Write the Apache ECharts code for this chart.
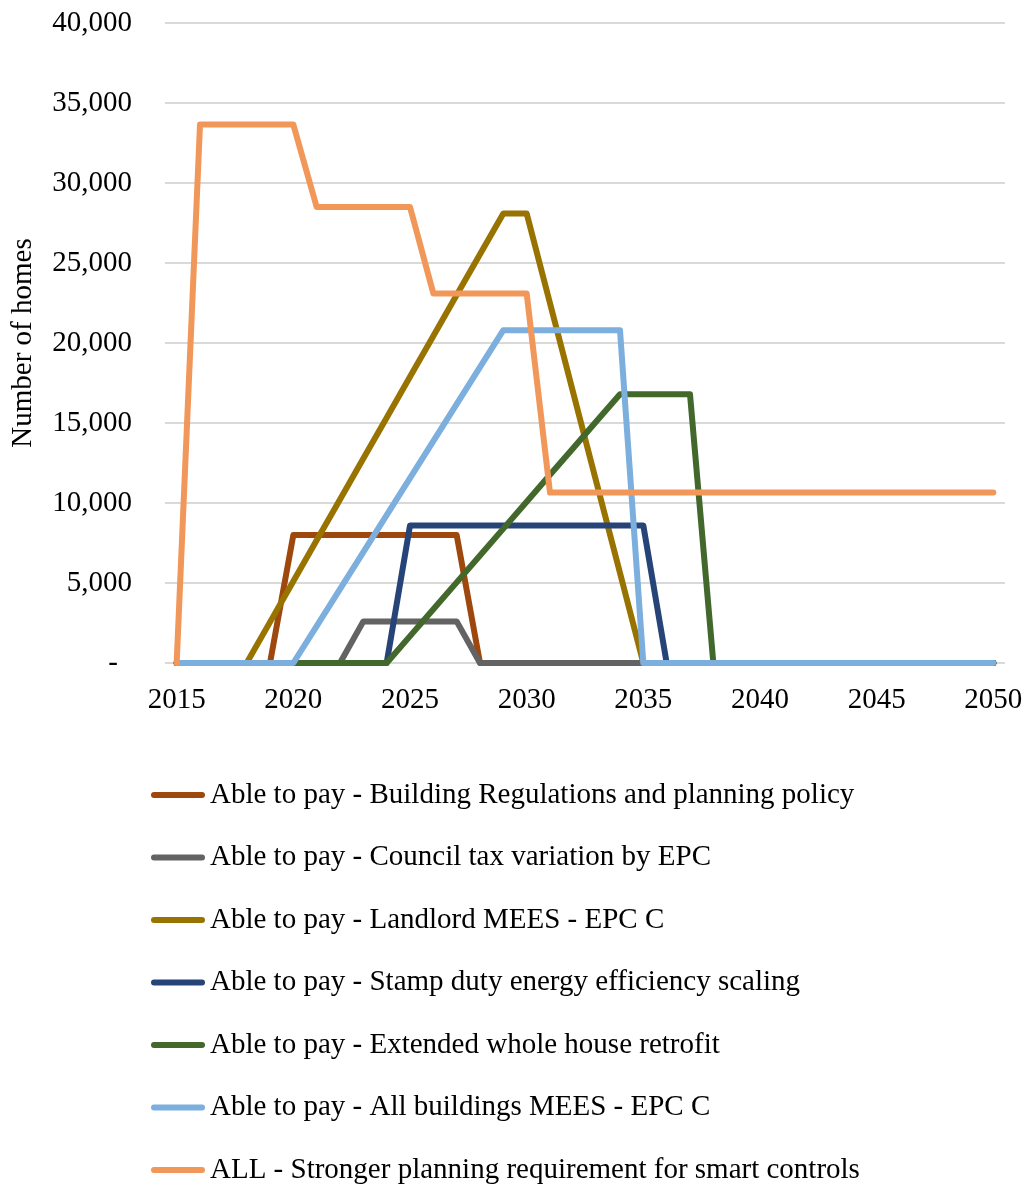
<!DOCTYPE html>
<html>
<head>
<meta charset="utf-8">
<script src="https://cdn.jsdelivr.net/npm/echarts@6/dist/echarts.min.js"></script>
<style>
  html, body { margin: 0; padding: 0; background: #ffffff; }
  #chart { width: 1031px; height: 1186px; }
</style>
</head>
<body>
<div id="chart"></div>
<script>
// Years on the horizontal axis
const years = [
  '2015', '2016', '2017', '2018', '2019', '2020', '2021', '2022', '2023', '2024',
  '2025', '2026', '2027', '2028', '2029', '2030', '2031', '2032', '2033', '2034',
  '2035', '2036', '2037', '2038', '2039', '2040', '2041', '2042', '2043', '2044',
  '2045', '2046', '2047', '2048', '2049', '2050'
];

// Number of homes per year for each policy
const buildingRegs = [
  0, 0, 0, 0, 0, 8000, 8000, 8000, 8000, 8000,
  8000, 8000, 8000, 0, 0, 0, 0, 0, 0, 0,
  0, 0, 0, 0, 0, 0, 0, 0, 0, 0,
  0, 0, 0, 0, 0, 0
];
const councilTax = [
  0, 0, 0, 0, 0, 0, 0, 0, 2600, 2600,
  2600, 2600, 2600, 0, 0, 0, 0, 0, 0, 0,
  0, 0, 0, 0, 0, 0, 0, 0, 0, 0,
  0, 0, 0, 0, 0, 0
];
const landlordMees = [
  0, 0, 0, 0, 2555, 5110, 7665, 10220, 12775, 15330,
  17885, 20440, 22995, 25550, 28100, 28100, 22480, 16860, 11240, 5620,
  0, 0, 0, 0, 0, 0, 0, 0, 0, 0,
  0, 0, 0, 0, 0, 0
];
const stampDuty = [
  0, 0, 0, 0, 0, 0, 0, 0, 0, 0,
  8600, 8600, 8600, 8600, 8600, 8600, 8600, 8600, 8600, 8600,
  8600, 0, 0, 0, 0, 0, 0, 0, 0, 0,
  0, 0, 0, 0, 0, 0
];
const wholeHouse = [
  0, 0, 0, 0, 0, 0, 0, 0, 0, 0,
  1680, 3360, 5040, 6720, 8400, 10080, 11760, 13440, 15120, 16800,
  16800, 16800, 16800, 0, 0, 0, 0, 0, 0, 0,
  0, 0, 0, 0, 0, 0
];
const allBuildingsMees = [
  0, 0, 0, 0, 0, 0, 2310, 4620, 6930, 9240,
  11550, 13870, 16180, 18490, 20800, 20800, 20800, 20800, 20800, 20800,
  0, 0, 0, 0, 0, 0, 0, 0, 0, 0,
  0, 0, 0, 0, 0, 0
];
const smartControls = [
  0, 33650, 33650, 33650, 33650, 33650, 28500, 28500, 28500, 28500,
  28500, 23100, 23100, 23100, 23100, 23100, 10650, 10650, 10650, 10650,
  10650, 10650, 10650, 10650, 10650, 10650, 10650, 10650, 10650, 10650,
  10650, 10650, 10650, 10650, 10650, 10650
];

const seriesNames = [
  'Able to pay - Building Regulations and planning policy',
  'Able to pay - Council tax variation by EPC',
  'Able to pay - Landlord MEES - EPC C',
  'Able to pay - Stamp duty energy efficiency scaling',
  'Able to pay - Extended whole house retrofit',
  'Able to pay - All buildings MEES - EPC C',
  'ALL - Stronger planning requirement for smart controls'
];
const seriesValues = [
  buildingRegs, councilTax, landlordMees, stampDuty, wholeHouse, allBuildingsMees, smartControls
];
const seriesColors = [
  '#9E480E', '#636363', '#997300', '#264478', '#43682B', '#7CAFDD', '#F1975A'
];

const FONT = "'Liberation Serif', 'Times New Roman', serif";
const FS = 29;

const chart = echarts.init(document.getElementById('chart'), null, { renderer: 'canvas' });

chart.setOption({
  animation: false,
  backgroundColor: '#ffffff',
  textStyle: { fontFamily: FONT, color: '#000000' },
  grid: { left: 165, right: 26, top: 23, bottom: 523, containLabel: false },
  xAxis: {
    type: 'category',
    data: years,
    boundaryGap: true,
    axisLine: { show: false },
    axisTick: { show: false },
    axisLabel: {
      interval: 4,
      margin: 23,
      fontSize: FS,
      fontFamily: FONT,
      color: '#000000'
    },
    splitLine: { show: false }
  },
  yAxis: {
    type: 'value',
    min: 0,
    max: 40000,
    interval: 5000,
    name: 'Number of homes',
    nameLocation: 'middle',
    nameRotate: 90,
    nameGap: 127,
    nameTextStyle: { fontSize: FS, fontFamily: FONT, color: '#000000' },
    axisLine: { show: false },
    axisTick: { show: false },
    axisLabel: {
      margin: 33,
      fontSize: FS,
      fontFamily: FONT,
      color: '#000000',
      formatter: function (v) {
        return v === 0 ? '{z|-}' : v.toLocaleString('en-US');
      },
      rich: {
        z: { fontSize: FS, fontFamily: FONT, color: '#000000', padding: [0, 14, 0, 0] }
      }
    },
    splitLine: { show: true, lineStyle: { color: '#D9D9D9', width: 2 } }
  },
  legend: {
    orient: 'vertical',
    left: 151,
    top: 780,
    height: 406,
    padding: 0,
    itemWidth: 54,
    itemHeight: 6,
    itemGap: 32.5,
    icon: 'path://M3,0L51,0A3,3,0,0,1,51,6L3,6A3,3,0,0,1,3,0Z',
    textStyle: { fontSize: FS, fontFamily: FONT, color: '#000000', lineHeight: 30 },
    data: seriesNames
  },
  series: seriesNames.map(function (name, i) {
    return {
      name: name,
      type: 'line',
      data: seriesValues[i],
      symbol: 'none',
      showSymbol: false,
      color: seriesColors[i],
      lineStyle: { width: 6, color: seriesColors[i], cap: 'round', join: 'round' },
      emphasis: { disabled: true }
    };
  })
});
</script>
</body>
</html>
